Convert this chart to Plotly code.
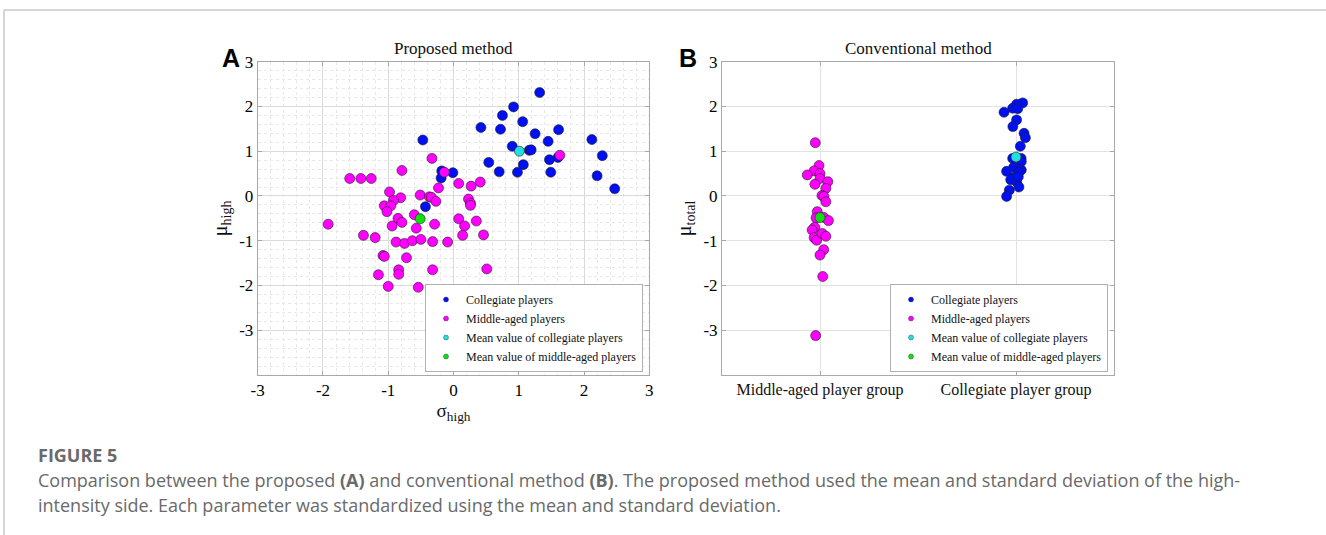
import plotly.graph_objects as go

W, H = 1326, 535

# ---------------- Panel A data (sigma_high, mu_high) ----------------
coll_sigma = [1.32, 0.92, 0.75, 1.06, 0.42, 0.72, 1.25, 1.61, 1.45, 2.12, -0.47, 0.90,
              1.16, 1.19, 2.28, 1.47, 1.60, 0.54, 1.07, 0.70, 0.98, 1.49, 2.20, 2.47,
              -0.18, -0.01, -0.19, -0.43]
coll_mu = [2.31, 1.99, 1.80, 1.66, 1.53, 1.49, 1.39, 1.48, 1.22, 1.26, 1.25, 1.11,
           1.02, 1.03, 0.90, 0.81, 0.86, 0.75, 0.70, 0.54, 0.53, 0.53, 0.45, 0.16,
           0.56, 0.52, 0.40, -0.24]

mid_sigma = [-0.33, 1.63, -0.79, -0.14, -1.59, -1.42, -1.26, 0.41, 0.08, 0.27, -0.23,
             -0.98, -0.51, -0.81, -0.37, -0.34, -0.27, -0.92, -1.06, -0.96, -1.02, 0.23,
             0.26, 0.26, -0.60, -0.85, -0.79, -0.94, -0.57, -1.92, 0.08, -0.29, 0.17,
             0.35, -1.38, -1.20, -0.88, -0.75, -0.63, -0.50, -0.32, -0.09, 0.14, 0.46,
             -1.08, -1.06, -0.72, -0.84, -0.84, -0.32, 0.51, -1.15, -1.00, -0.54]
mid_mu = [0.84, 0.91, 0.57, 0.53, 0.39, 0.39, 0.39, 0.31, 0.28, 0.22, 0.18,
          0.09, 0.02, -0.04, -0.02, -0.03, -0.12, -0.10, -0.22, -0.22, -0.35, -0.07,
          -0.16, -0.21, -0.42, -0.50, -0.59, -0.67, -0.72, -0.63, -0.51, -0.63, -0.67,
          -0.56, -0.88, -0.93, -1.03, -1.06, -1.00, -0.97, -1.02, -1.03, -0.88, -0.87,
          -1.33, -1.35, -1.38, -1.65, -1.75, -1.65, -1.63, -1.76, -2.02, -2.04]

mean_coll_A = (1.01, 1.00)
mean_mid_A = (-0.51, -0.51)

# ---------------- Panel B data (group position + jitter, mu_total) ----------------
group_labels = ["Middle-aged player group", "Collegiate player group"]
group_pos = [1, 2]

mid_jitter = [-0.024, -0.005, -0.030, -0.065, 0.000, 0.000, 0.040, -0.026, 0.030, 0.010,
              0.020, 0.030, -0.014, -0.020, 0.020, 0.043, -0.027, -0.040, -0.030, -0.017,
              0.012, 0.030, 0.019, 0.000, 0.014, -0.022]
mid_total = [1.19, 0.68, 0.56, 0.47, 0.50, 0.39, 0.32, 0.26, 0.17, 0.01,
             -0.01, -0.13, -0.35, -0.49, -0.48, -0.55, -0.70, -0.76, -0.93, -0.99,
             -0.84, -0.90, -1.20, -1.32, -1.80, -3.12]

coll_jitter = [0.034, 0.003, -0.017, 0.009, -0.061, 0.003, -0.016, 0.041, 0.048, 0.022,
               -0.017, 0.026, 0.027, -0.012, 0.027, 0.014, -0.048, -0.014, -0.027, 0.003,
               0.012, 0.015, -0.034, -0.048]
coll_total = [2.08, 2.05, 1.96, 1.95, 1.87, 1.70, 1.55, 1.40, 1.30, 1.11,
              0.84, 0.84, 0.77, 0.64, 0.58, 0.53, 0.55, 0.41, 0.36, 0.32,
              0.43, 0.20, 0.13, -0.01]

mean_mid_B = -0.48
mean_coll_B = 0.87

legend_names = ["Collegiate players", "Middle-aged players",
                "Mean value of collegiate players", "Mean value of middle-aged players"]
colors = ["#0010f0", "#ff00ff", "#22e0e0", "#10e010"]

tick_values = [-3, -2, -1, 0, 1, 2, 3]
tick_labels = ["-3", "-2", "-1", "0", "1", "2", "3"]

SERIF = "Liberation Serif"
MS = 10
OUT = dict(color="#202020", width=0.6)

fig = go.Figure()

# Panel A scatter
fig.add_trace(go.Scatter(x=coll_sigma, y=coll_mu, mode="markers", xaxis="x", yaxis="y",
                         marker=dict(size=MS, color=colors[0], line=OUT), showlegend=False))
fig.add_trace(go.Scatter(x=mid_sigma, y=mid_mu, mode="markers", xaxis="x", yaxis="y",
                         marker=dict(size=MS, color=colors[1], line=OUT), showlegend=False))
fig.add_trace(go.Scatter(x=[mean_coll_A[0]], y=[mean_coll_A[1]], mode="markers", xaxis="x", yaxis="y",
                         marker=dict(size=MS, color=colors[2], line=OUT), showlegend=False))
fig.add_trace(go.Scatter(x=[mean_mid_A[0]], y=[mean_mid_A[1]], mode="markers", xaxis="x", yaxis="y",
                         marker=dict(size=MS, color=colors[3], line=OUT), showlegend=False))

# Panel B scatter
fig.add_trace(go.Scatter(x=[group_pos[1] + j for j in coll_jitter], y=coll_total, mode="markers",
                         xaxis="x2", yaxis="y2",
                         marker=dict(size=MS, color=colors[0], line=OUT), showlegend=False))
fig.add_trace(go.Scatter(x=[group_pos[0] + j for j in mid_jitter], y=mid_total, mode="markers",
                         xaxis="x2", yaxis="y2",
                         marker=dict(size=MS, color=colors[1], line=OUT), showlegend=False))
fig.add_trace(go.Scatter(x=[group_pos[1]], y=[mean_coll_B], mode="markers", xaxis="x2", yaxis="y2",
                         marker=dict(size=MS, color=colors[2], line=OUT), showlegend=False))
fig.add_trace(go.Scatter(x=[group_pos[0]], y=[mean_mid_B], mode="markers", xaxis="x2", yaxis="y2",
                         marker=dict(size=MS, color=colors[3], line=OUT), showlegend=False))

# legend-only entries (small dots like the original)
for lg, xa, ya in (("legend", "x", "y"), ("legend2", "x2", "y2")):
    for name, c in zip(legend_names, colors):
        fig.add_trace(go.Scatter(x=[None], y=[None], mode="markers", name=name, xaxis=xa, yaxis=ya,
                                 marker=dict(size=5, color=c, line=dict(color="#303030", width=0.4)),
                                 legend=lg, showlegend=True))

xdomA = [257.7 / W, 649.3 / W]
xdomB = [722 / W, 1114 / W]
ydom = [1 - 375 / H, 1 - 61.7 / H]


def num_axis(**kw):
    d = dict(showline=True, linecolor="#a8a8a8", linewidth=1, mirror="ticks",
             ticks="inside", ticklen=4, tickcolor="#a8a8a8", zeroline=False,
             automargin=False, tickmode="array", tickvals=tick_values, ticktext=tick_labels,
             tickfont=dict(family="Liberation Serif", size=17, color="#000000"))
    d.update(kw)
    return d


fig.update_layout(
    width=W, height=H,
    margin=dict(l=0, r=0, t=0, b=0),
    paper_bgcolor="white", plot_bgcolor="white",
    font=dict(family=SERIF, size=16, color="#111"),
    xaxis=num_axis(domain=xdomA, anchor="y", range=[-3, 3],
                   showgrid=True, gridcolor="#dadada", gridwidth=1,
                   minor=dict(dtick=0.2, tick0=0, showgrid=True, gridcolor="#e8e8e8", griddash="dot"),
                   title=dict(text="σ<sub>high</sub>", font=dict(family=SERIF, size=19), standoff=4)),
    yaxis=num_axis(domain=ydom, anchor="x", range=[-4, 3],
                   showgrid=True, gridcolor="#dadada", gridwidth=1,
                   minor=dict(dtick=0.2, tick0=0, showgrid=True, gridcolor="#e8e8e8", griddash="dot"),
                   title=dict(text="μ<sub>high</sub>", font=dict(family=SERIF, size=20), standoff=6)),
    xaxis2=num_axis(domain=xdomB, anchor="y2", range=[0.5, 2.5],
                    tickvals=group_pos, ticktext=group_labels,
                    tickfont=dict(family=SERIF, size=16, color="#111"),
                    showgrid=True, gridcolor="#e2e2e2", gridwidth=1),
    yaxis2=num_axis(domain=ydom, anchor="x2", range=[-4, 3],
                    showgrid=True, gridcolor="#e2e2e2", gridwidth=1,
                    title=dict(text="μ<sub>total</sub>", font=dict(family=SERIF, size=20), standoff=6)),
    legend=dict(x=643 / W, y=1 - 372 / H, xanchor="right", yanchor="bottom",
                bgcolor="white", bordercolor="#b0b0b0", borderwidth=1,
                font=dict(family=SERIF, size=12, color="#111"), itemwidth=30,
                tracegroupgap=0),
    legend2=dict(x=1108 / W, y=1 - 372 / H, xanchor="right", yanchor="bottom",
                 bgcolor="white", bordercolor="#b0b0b0", borderwidth=1,
                 font=dict(family=SERIF, size=12, color="#111"), itemwidth=30,
                 tracegroupgap=0),
)

CAP = "Open Sans"
annotations = [
    dict(text="Proposed method", x=(257.7 + 649.3) / 2 / W, y=1 - 49 / H, xref="paper", yref="paper",
         xanchor="center", yanchor="middle", showarrow=False, font=dict(family=SERIF, size=17, color="#111")),
    dict(text="Conventional method", x=(722 + 1114) / 2 / W, y=1 - 49 / H, xref="paper", yref="paper",
         xanchor="center", yanchor="middle", showarrow=False, font=dict(family=SERIF, size=17, color="#111")),
    dict(text="<b>A</b>", x=231 / W, y=1 - 58 / H, xref="paper", yref="paper",
         xanchor="center", yanchor="middle", showarrow=False,
         font=dict(family="Liberation Sans", size=25, color="#000")),
    dict(text="<b>B</b>", x=688 / W, y=1 - 58 / H, xref="paper", yref="paper",
         xanchor="center", yanchor="middle", showarrow=False,
         font=dict(family="Liberation Sans", size=25, color="#000")),
    dict(text="<b>FIGURE 5</b>", x=36 / W, y=1 - 455 / H, xref="paper", yref="paper",
         xanchor="left", yanchor="middle", showarrow=False,
         font=dict(family=CAP, size=18, color="#6a6a6a")),
    dict(text="Comparison between the proposed <b>(A)</b> and conventional method <b>(B)</b>. "
              "The proposed method used the mean and standard deviation of the high-",
         x=36 / W, y=1 - 480 / H, xref="paper", yref="paper",
         xanchor="left", yanchor="middle", showarrow=False,
         font=dict(family=CAP, size=18, color="#6a6a6a")),
    dict(text="intensity side. Each parameter was standardized using the mean and standard deviation.",
         x=36 / W, y=1 - 505 / H, xref="paper", yref="paper",
         xanchor="left", yanchor="middle", showarrow=False,
         font=dict(family=CAP, size=18, color="#6a6a6a")),
]
fig.update_layout(annotations=annotations)

fig.update_layout(shapes=[
    dict(type="line", xref="paper", yref="paper", x0=4 / W, x1=1, y0=1 - 10 / H, y1=1 - 10 / H,
         line=dict(color="#c8c8c8", width=1.5)),
    dict(type="line", xref="paper", yref="paper", x0=4 / W, x1=4 / W, y0=0, y1=1 - 10 / H,
         line=dict(color="#c8c8c8", width=1.5)),
])

fig.write_html("out.html")
